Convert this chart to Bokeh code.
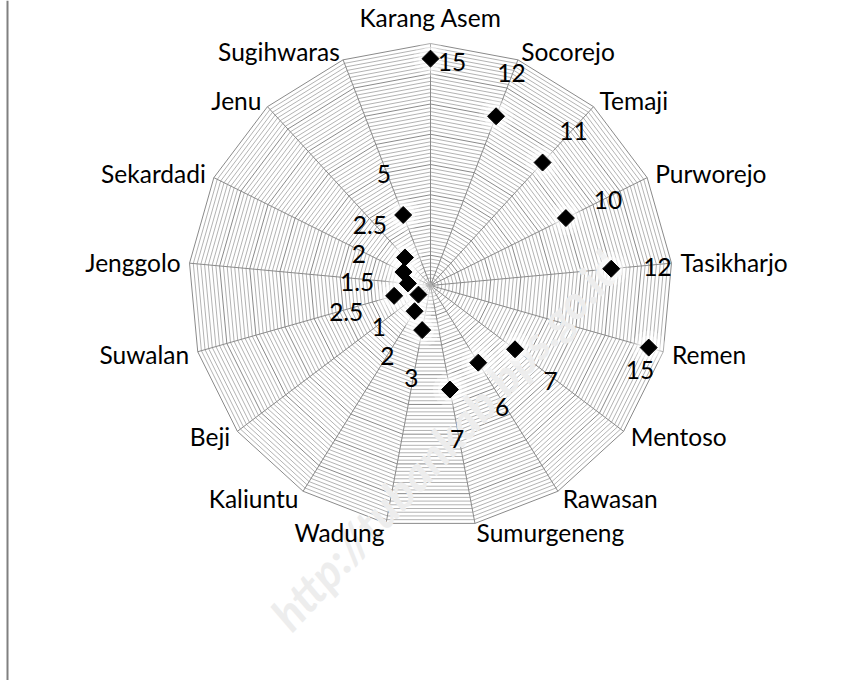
import math
from bokeh.plotting import figure
from bokeh.models import Range1d
from bokeh.embed import file_html
from bokeh.resources import INLINE
from bokeh.core.properties import value

# ---------------- data ----------------
categories = ["Karang Asem", "Socorejo", "Temaji", "Purworejo", "Tasikharjo", "Remen",
              "Mentoso", "Rawasan", "Sumurgeneng", "Wadung", "Kaliuntu", "Beji",
              "Suwalan", "Jenggolo", "Sekardadi", "Jenu", "Sugihwaras"]
values = [15, 12, 11, 10, 12, 15, 7, 6, 7, 3, 2, 1, 2.5, 1.5, 2, 2.5, 5]
value_labels = ["15", "12", "11", "10", "12", "15", "7", "6", "7", "3", "2", "1",
                "2.5", "1.5", "2", "2.5", "5"]
axis_max = 16
minor_unit = 0.25
major_unit = 2

# ---------------- layout / style ----------------
W, H = 848, 680          # figure size (px)
CX, CY = 430, 285        # radar centre in canvas px (from left / from top)
R = 242                  # outer radius in px
FONT = "Lato"
FS = "24.5px"
# screen-pixel offsets of each value label from its marker (right, down)
label_dx = [21.5, 15.4, 30.9, 42.1, 46.3, -8.7, 35.5, 23.9, 7.2, -10.7, -27.1,
            -39.6, -47.9, -50.7, -44.6, -35.2, -19.4]
label_dy = [3.6, -43.2, -32.0, -17.6, -1.8, 22.4, 31.2, 44.5, 49.2, 47.4, 44.3,
            32.6, 16.4, -1.2, -18.2, -32.1, -41.2]

n = len(categories)
angles = [2 * math.pi * i / n for i in range(n)]   # clockwise from top


def to_xy(v, a):
    r = v / axis_max * R
    return r * math.sin(a), r * math.cos(a)


p = figure(width=W, height=H, output_backend="svg", toolbar_location=None,
           x_range=Range1d(-CX, W - CX), y_range=Range1d(-(H - CY), CY),
           min_border=0, outline_line_color=None)
p.axis.visible = False
p.grid.visible = False
p.background_fill_color = "white"
p.border_fill_color = "white"

# rings
minor_xs, minor_ys, major_xs, major_ys = [], [], [], []
steps = int(round(axis_max / minor_unit))
for k in range(1, steps + 1):
    v = k * minor_unit
    xs, ys = [], []
    for a in angles + [angles[0]]:
        x, y = to_xy(v, a)
        xs.append(x)
        ys.append(y)
    if abs(v / major_unit - round(v / major_unit)) < 1e-9:
        major_xs.append(xs)
        major_ys.append(ys)
    else:
        minor_xs.append(xs)
        minor_ys.append(ys)
p.multi_line(minor_xs, minor_ys, line_color="#B3B3B3", line_width=1)
p.multi_line(major_xs, major_ys, line_color="#8A8A8A", line_width=1)

# spokes
ox = [to_xy(axis_max, a)[0] for a in angles]
oy = [to_xy(axis_max, a)[1] for a in angles]
p.segment(x0=[0] * n, y0=[0] * n, x1=ox, y1=oy, line_color="#8A8A8A", line_width=1)

# watermark
p.text(x=[15], y=[-155], text=["http://tubankab.bps.go.id"], angle=math.radians(47.5),
       text_align="center", text_baseline="middle", text_font=value(FONT),
       text_font_style="bold italic", text_font_size="46px", text_color="#EDEDED")

# left frame border
p.segment(x0=[-CX + 7], y0=[CY], x1=[-CX + 7], y1=[-(H - CY)],
          line_color="#808080", line_width=2)

# points
px = [to_xy(v, a)[0] for v, a in zip(values, angles)]
py = [to_xy(v, a)[1] for v, a in zip(values, angles)]
p.scatter(px, py, marker="circle", size=34, fill_color="white", fill_alpha=0.3, line_color=None)
p.scatter(px, py, marker="circle", size=24, fill_color="white", fill_alpha=0.5, line_color=None)
p.scatter(px, py, marker="square", angle=math.pi / 4, size=12,
          fill_color="black", line_color="black")

# value labels
lx = [x + dx for x, dx in zip(px, label_dx)]
ly = [y - dy for y, dy in zip(py, label_dy)]
p.text(lx, ly, text=value_labels, text_align="center", text_baseline="middle",
       text_font=value(FONT), text_font_size=FS, text_color="black")

# category labels
d = 9
for cat, a in zip(categories, angles):
    s, c = math.sin(a), math.cos(a)
    if abs(s) < 1e-6:
        x, y = 0, R + 26
        align = "center"
    else:
        x, y = (R + d) * s, (R + d) * c
        align = "left" if s > 0 else "right"
    p.text([x], [y], text=[cat], text_align=align, text_baseline="middle",
           text_font=value(FONT), text_font_size=FS, text_color="black")

open("out.html", "w").write(file_html(p, INLINE))
